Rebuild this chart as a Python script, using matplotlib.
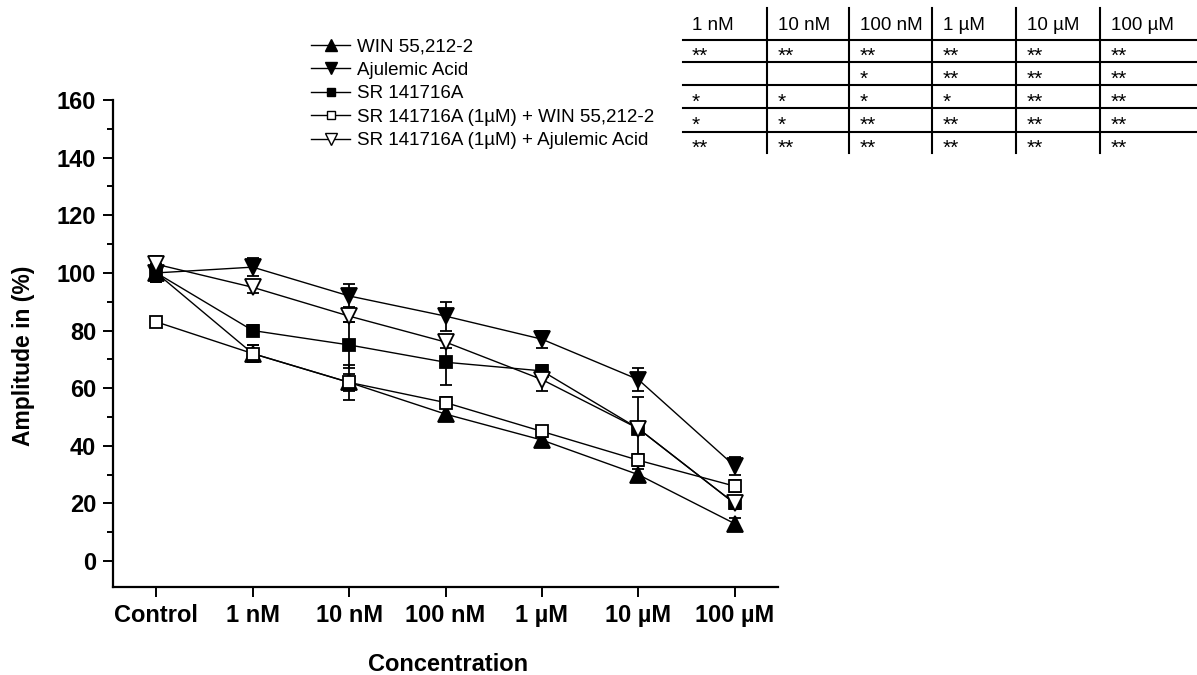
import matplotlib
matplotlib.use("Agg")
from matplotlib import pyplot
from matplotlib.lines import Line2D

pyplot.rcParams['font.family'] = ['Liberation Sans', 'DejaVu Sans']

CONCS = ['Control', '1 nM', '10 nM', '100 nM', '1 µM', '10 µM', '100 µM']

WIN = [100, 72, 62, 51, 42, 30, 13]
WIN_ERR = [3, 3, 3, 2, 2, 2, 2]
AJA = [100, 102, 92, 85, 77, 63, 33]
AJA_ERR = [3, 3, 4, 5, 3, 4, 3]
SR = [100, 80, 75, 69, 66, 46, 20]
SR_ERR = [3, 2, 8, 8, 2, 2, 2]
SR_WIN = [83, 72, 62, 55, 45, 35, 26]
SR_WIN_ERR = [1, 3, 6, 2, 2, 2, 2]
SR_AJA = [103, 95, 85, 76, 63, 46, 20]
SR_AJA_ERR = [3, 2, 2, 2, 4, 11, 2]

LABELS = ['WIN 55,212-2', 'Ajulemic Acid', 'SR 141716A',
          'SR 141716A (1µM) + WIN 55,212-2', 'SR 141716A (1µM) + Ajulemic Acid']

TABLE_HEAD = ['1 nM', '10 nM', '100 nM', '1 µM', '10 µM', '100 µM']
TABLE_ROWS = [
    ['**', '**', '**', '**', '**', '**'],
    ['', '', '*', '**', '**', '**'],
    ['*', '*', '*', '*', '**', '**'],
    ['*', '*', '**', '**', '**', '**'],
    ['**', '**', '**', '**', '**', '**'],
]

W, H = 1197, 675


def fx(px):
    return px / W


def fy(py):
    return 1 - py / H


fig = pyplot.figure(figsize=(11.97, 6.75), dpi=100)
ax = fig.add_axes([fx(113), fy(587), fx(778) - fx(113), fy(100) - fy(587)])

x = list(range(len(CONCS)))
series = [
    (WIN, WIN_ERR, '^', 'black', 11),
    (AJA, AJA_ERR, 'v', 'black', 11),
    (SR, SR_ERR, 's', 'black', 8),
    (SR_WIN, SR_WIN_ERR, 's', 'white', 8),
    (SR_AJA, SR_AJA_ERR, 'v', 'white', 11),
]
handles = []
for (vals, errs, mk, fc, ms), lab in zip(series, LABELS):
    ax.errorbar(x, vals, yerr=errs, fmt='none', ecolor='black', elinewidth=1.3,
                capsize=4, capthick=1.3, zorder=2)
    ax.plot(x, vals, color='black', lw=1.0, marker=mk, ms=ms, mfc=fc, mec='black',
            mew=1.3, zorder=3)
    handles.append(Line2D([], [], color='black', lw=1.0, marker=mk, ms=ms * 0.8,
                          mfc=fc, mec='black', mew=1.0))

ax.set_xlim(-0.45, 6.45)
ax.set_ylim(-9, 160)
ax.set_yticks(range(0, 161, 20))
ax.set_yticks(range(0, 161, 10), minor=True)
ax.set_xticks(x)
ax.set_xticklabels(CONCS)
ax.spines['top'].set_visible(False)
ax.spines['right'].set_visible(False)
for s in ('left', 'bottom'):
    ax.spines[s].set_linewidth(1.6)
ax.tick_params(axis='both', direction='out', length=7, width=1.4, labelsize=17, pad=5)
ax.tick_params(axis='y', which='minor', direction='out', length=4, width=1.4)
for t in ax.get_xticklabels() + ax.get_yticklabels():
    t.set_fontweight('bold')
ax.set_xlabel('Concentration', fontsize=17, fontweight='bold')
ax.set_ylabel('Amplitude in (%)', fontsize=16.5, fontweight='bold')
ax.xaxis.set_label_coords(0.504, -0.135)
ax.yaxis.set_label_coords(-0.118, 0.474)

fig.legend(handles, LABELS, loc='upper left', bbox_to_anchor=(fx(311), fy(38)),
           frameon=False, fontsize=13.5, handlelength=2.1, handletextpad=0.37,
           labelspacing=0.34, borderpad=0, borderaxespad=0)

# significance table
col_x = [681, 767, 849, 932, 1016, 1100, 1197]
row_y = [8, 40, 62, 85, 108, 132, 153]
for cx in col_x[1:-1]:
    fig.add_artist(Line2D([fx(cx), fx(cx)], [fy(row_y[0]), fy(row_y[-1])],
                          color='black', lw=1.5))
for ry in row_y[1:-1]:
    fig.add_artist(Line2D([fx(683), fx(1197)], [fy(ry), fy(ry)],
                          color='black', lw=1.5))
for j, head in enumerate(TABLE_HEAD):
    fig.text(fx(col_x[j] + 11), fy(26), head, fontsize=13.5, va='center')
for i, row in enumerate(TABLE_ROWS):
    yc = (row_y[i + 1] + row_y[i + 2]) / 2
    for j, cell in enumerate(row):
        fig.text(fx(col_x[j] + 11), fy(yc + 11), cell, fontsize=15, va='baseline')

fig.savefig('out.png', dpi=100)
